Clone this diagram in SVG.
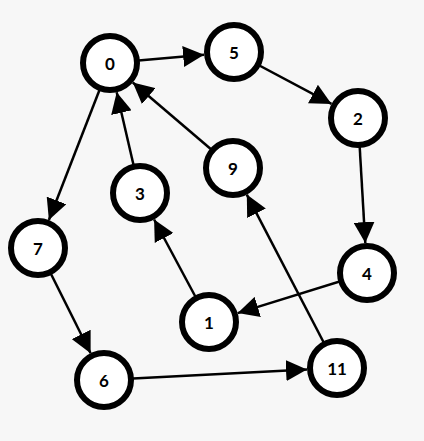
<svg xmlns="http://www.w3.org/2000/svg" width="424" height="441" viewBox="0 0 424 441">
<style>
.bg{fill:#f7f7f7}
.node circle{fill:#fff;stroke:#000;stroke-width:6}
.node text{font-family:Lato,"Liberation Sans",sans-serif;font-weight:bold;font-size:17px;text-anchor:middle;dominant-baseline:central;fill:#000}
.edges line{stroke:#000;stroke-width:2.5;marker-end:url(#arr)}
</style>
<defs>
<marker id="arr" markerUnits="userSpaceOnUse" markerWidth="21" markerHeight="21" viewBox="0 0 21 21" refX="21" refY="10.5" orient="auto">
<path d="M0,0 L21,10.5 L0,21 z" fill="#000"/>
</marker>
</defs>
<rect class="bg" x="0" y="0" width="424" height="441"/>
<g id="edges" class="edges">
<line x1="110" y1="63" x2="204.1" y2="54.7"/>
<line x1="234" y1="52" x2="331.5" y2="103.9"/>
<line x1="358" y1="118" x2="365.3" y2="243.1"/>
<line x1="367" y1="273" x2="237.7" y2="313.1"/>
<line x1="209" y1="322" x2="154.1" y2="219.5"/>
<line x1="140" y1="193" x2="116.7" y2="92.2"/>
<line x1="233" y1="168" x2="132.8" y2="82.5"/>
<line x1="110" y1="63" x2="48.9" y2="220"/>
<line x1="38" y1="248" x2="90.6" y2="353.2"/>
<line x1="104" y1="380" x2="307" y2="369.5"/>
<line x1="337" y1="368" x2="246.8" y2="194.6"/>
</g>
<g id="n0" class="node"><circle cx="110" cy="63" r="27"/><text x="110" y="63">0</text></g>
<g id="n5" class="node"><circle cx="234" cy="52" r="27"/><text x="234" y="52">5</text></g>
<g id="n2" class="node"><circle cx="358" cy="118" r="27"/><text x="358" y="118">2</text></g>
<g id="n9" class="node"><circle cx="233" cy="168" r="27"/><text x="233" y="168">9</text></g>
<g id="n3" class="node"><circle cx="140" cy="193" r="27"/><text x="140" y="193">3</text></g>
<g id="n7" class="node"><circle cx="38" cy="248" r="27"/><text x="38" y="248">7</text></g>
<g id="n4" class="node"><circle cx="367" cy="273" r="27"/><text x="367" y="273">4</text></g>
<g id="n1" class="node"><circle cx="209" cy="322" r="27"/><text x="209" y="322">1</text></g>
<g id="n6" class="node"><circle cx="104" cy="380" r="27"/><text x="104" y="380">6</text></g>
<g id="n11" class="node"><circle cx="337" cy="368" r="27"/><text x="337" y="368">11</text></g>
</svg>
